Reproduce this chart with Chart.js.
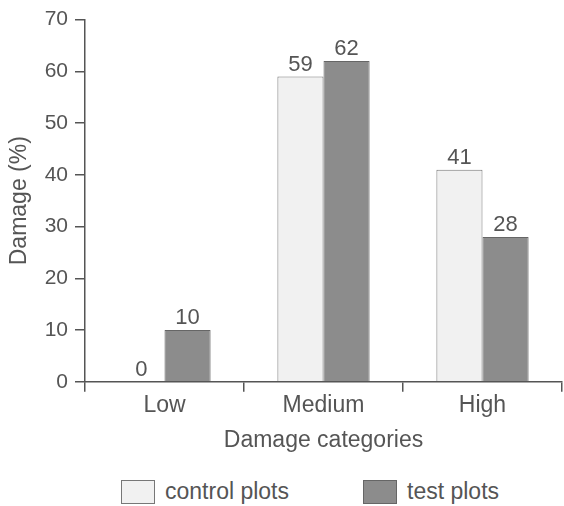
<!DOCTYPE html>
<html>
<head>
<meta charset="utf-8">
<script src="https://cdn.jsdelivr.net/npm/chart.js@4"></script>
<style>
  body { margin: 0; background: #fff; font-family: "Liberation Sans", Arial, sans-serif; }
  #wrap { position: relative; width: 564px; height: 506px; }
  #chart-box { position: absolute; left: 0; top: 0; width: 564px; height: 455px; }
  #legend { position: absolute; top: 478px; left: 0; width: 564px; height: 26px; }
  .item { position: absolute; top: 0; display: flex; align-items: center; color: #555; font-size: 23px; }
  .swatch { width: 34px; height: 24px; box-sizing: border-box; border: 1px solid #777; margin-right: 10px; }
</style>
</head>
<body>
<div id="wrap">
  <div id="chart-box"><canvas id="damage-chart"></canvas></div>
  <div id="legend"></div>
</div>
<script>
// --- DATA ---
const categories = ['Low', 'Medium', 'High'];
const controlPlots = [0, 59, 41];
const testPlots = [10, 62, 28];
const yTicks = [0, 10, 20, 30, 40, 50, 60, 70];

// --- STYLES ---
const TEXT = '#555';
const AXIS = '#555';
const CONTROL_FILL = '#f1f1f1';
const TEST_FILL = '#8c8c8c';

// value labels above each bar
const valueLabels = {
    id: 'valueLabels',
    afterDatasetsDraw(chart) {
        const ctx = chart.ctx;
        ctx.save();
        ctx.font = '22px "Liberation Sans", Arial, sans-serif';
        ctx.fillStyle = TEXT;
        ctx.textAlign = 'center';
        ctx.textBaseline = 'alphabetic';
        chart.data.datasets.forEach((ds, i) => {
            chart.getDatasetMeta(i).data.forEach((bar, j) => {
                ctx.fillText(String(ds.data[j]), bar.x, bar.y - 6);
            });
        });
        ctx.restore();
    }
};

const ctx = document.getElementById('damage-chart').getContext('2d');
const damageChart = new Chart(ctx, {
    type: 'bar',
    data: {
        labels: categories,
        datasets: [
            {
                label: 'control plots',
                data: controlPlots,
                backgroundColor: CONTROL_FILL,
                borderColor: '#777',
                borderWidth: 1,
                borderSkipped: 'bottom'
            },
            {
                label: 'test plots',
                data: testPlots,
                backgroundColor: TEST_FILL,
                borderColor: '#666',
                borderWidth: 1,
                borderSkipped: 'bottom'
            }
        ]
    },
    options: {
        responsive: true,
        maintainAspectRatio: false,
        animation: false,
        layout: { padding: { left: 4, right: 2, top: 6, bottom: 0 } },
        datasets: {
            bar: { categoryPercentage: 0.58, barPercentage: 1.0 }
        },
        plugins: {
            legend: { display: false },
            tooltip: { enabled: false }
        },
        scales: {
            x: {
                grid: {
                    offset: true,
                    drawOnChartArea: false,
                    tickLength: 10,
                    color: AXIS,
                    lineWidth: 1.5
                },
                border: { color: AXIS, width: 1.5 },
                ticks: {
                    color: TEXT,
                    padding: 0,
                    font: { size: 23, family: '"Liberation Sans", Arial, sans-serif' }
                },
                title: {
                    display: true,
                    text: 'Damage categories',
                    color: TEXT,
                    padding: { top: 7, bottom: 1 },
                    font: { size: 23, family: '"Liberation Sans", Arial, sans-serif' }
                }
            },
            y: {
                min: 0,
                max: 70,
                afterBuildTicks(scale) {
                    scale.ticks = yTicks.map(v => ({ value: v }));
                },
                afterFit(scale) {
                    scale.width = 81;
                },
                grid: {
                    drawOnChartArea: false,
                    tickLength: 10,
                    color: AXIS,
                    lineWidth: 1.5
                },
                border: { color: AXIS, width: 1.5 },
                ticks: {
                    color: TEXT,
                    padding: 7,
                    font: { size: 21, family: '"Liberation Sans", Arial, sans-serif' }
                },
                title: {
                    display: true,
                    text: 'Damage (%)',
                    color: TEXT,
                    padding: { top: 2, bottom: 2 },
                    font: { size: 23, family: '"Liberation Sans", Arial, sans-serif' }
                }
            }
        }
    },
    plugins: [valueLabels]
});

// --- HTML LEGEND ---
const legendX = [121, 363];
const legendEl = document.getElementById('legend');
damageChart.data.datasets.forEach((ds, i) => {
    const item = document.createElement('div');
    item.className = 'item';
    item.style.left = legendX[i] + 'px';
    const sw = document.createElement('span');
    sw.className = 'swatch';
    sw.style.background = ds.backgroundColor;
    sw.style.borderColor = ds.borderColor;
    const txt = document.createElement('span');
    txt.textContent = ds.label;
    item.appendChild(sw);
    item.appendChild(txt);
    legendEl.appendChild(item);
});
</script>
</body>
</html>
